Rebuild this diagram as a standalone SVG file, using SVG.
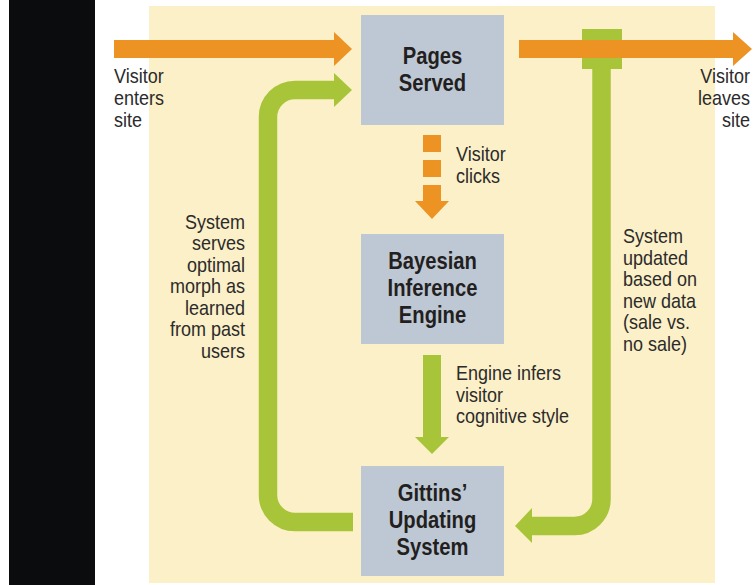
<svg xmlns="http://www.w3.org/2000/svg" width="753" height="585" viewBox="0 0 753 585">
<style>
.box{fill:#BEC8D4}
.title{font-family:"Liberation Sans",Arial,sans-serif;font-weight:bold;font-size:23.5px;fill:#231F20;text-anchor:middle}
.lbl{font-family:"Liberation Sans",Arial,sans-serif;font-size:20px;fill:#2B2B2B}
.r{text-anchor:end}
.org{fill:#EC9323}
.grn{fill:#A8C539}
.gline{fill:none;stroke:#A8C539;stroke-width:18.5}
</style>
<rect x="0" y="0" width="753" height="585" fill="#FFFFFF"/>
<rect x="9" y="0" width="86" height="585" fill="#0B0C0E"/>
<rect x="149" y="6" width="566" height="577" fill="#FCF0C8"/>

<g id="connectors">
  <path class="gline" d="M353,522 H295 A27,27 0 0 1 268,495 V117 A27,27 0 0 1 295,90 H336"/>
  <polygon class="grn" points="334,73 352,90 334,107"/>
  <rect class="grn" x="582" y="29" width="40" height="40"/>
  <path class="gline" d="M601.5,68 V499 A27,27 0 0 1 574.5,526 H530"/>
  <polygon class="grn" points="532,508 515,526 532,543"/>
  <rect class="org" x="114" y="40" width="221" height="18"/>
  <polygon class="org" points="334,32 352,49 334,66"/>
  <rect class="org" x="519" y="40" width="215" height="18"/>
  <polygon class="org" points="733,32 752,49 733,66"/>
  <rect class="org" x="423" y="135" width="18" height="17"/>
  <rect class="org" x="423" y="160" width="18" height="17"/>
  <rect class="org" x="423" y="185" width="18" height="17"/>
  <polygon class="org" points="415,201 432,219 449,201"/>
  <rect class="grn" x="423" y="355" width="18" height="83"/>
  <polygon class="grn" points="415,437 432,454 449,437"/>
</g>

<g id="node-pages">
  <rect class="box" x="361" y="15" width="143" height="110"/>
  <g transform="translate(432.5,0) scale(0.86,1)">
    <text class="title" x="0" y="64">Pages</text>
    <text class="title" x="0" y="91">Served</text>
  </g>
</g>
<g id="node-bayesian">
  <rect class="box" x="361" y="234" width="143" height="110"/>
  <g transform="translate(432.5,0) scale(0.86,1)">
    <text class="title" x="0" y="269">Bayesian</text>
    <text class="title" x="0" y="296">Inference</text>
    <text class="title" x="0" y="323">Engine</text>
  </g>
</g>
<g id="node-gittins">
  <rect class="box" x="361" y="466" width="143" height="110"/>
  <g transform="translate(432.5,0) scale(0.86,1)">
    <text class="title" x="0" y="501">Gittins’</text>
    <text class="title" x="0" y="528">Updating</text>
    <text class="title" x="0" y="555">System</text>
  </g>
</g>

<g id="labels">
  <g transform="translate(114,0) scale(0.9,1)">
    <text class="lbl" x="0" y="83">Visitor</text>
    <text class="lbl" x="0" y="105">enters</text>
    <text class="lbl" x="0" y="127">site</text>
  </g>
  <g transform="translate(750,0) scale(0.9,1)">
    <text class="lbl r" x="0" y="83">Visitor</text>
    <text class="lbl r" x="0" y="105">leaves</text>
    <text class="lbl r" x="0" y="127">site</text>
  </g>
  <g transform="translate(456,0) scale(0.9,1)">
    <text class="lbl" x="0" y="161">Visitor</text>
    <text class="lbl" x="0" y="183">clicks</text>
    <text class="lbl" x="0" y="380">Engine infers</text>
    <text class="lbl" x="0" y="402">visitor</text>
    <text class="lbl" x="0" y="423">cognitive style</text>
  </g>
  <g transform="translate(245,0) scale(0.9,1)">
    <text class="lbl r" x="0" y="229">System</text>
    <text class="lbl r" x="0" y="250.5">serves</text>
    <text class="lbl r" x="0" y="272">optimal</text>
    <text class="lbl r" x="0" y="293.5">morph as</text>
    <text class="lbl r" x="0" y="315">learned</text>
    <text class="lbl r" x="0" y="336.5">from past</text>
    <text class="lbl r" x="0" y="358">users</text>
  </g>
  <g transform="translate(623,0) scale(0.9,1)">
    <text class="lbl" x="0" y="243">System</text>
    <text class="lbl" x="0" y="265">updated</text>
    <text class="lbl" x="0" y="286">based on</text>
    <text class="lbl" x="0" y="308">new data</text>
    <text class="lbl" x="0" y="329">(sale vs.</text>
    <text class="lbl" x="0" y="351">no sale)</text>
  </g>
</g>
</svg>
